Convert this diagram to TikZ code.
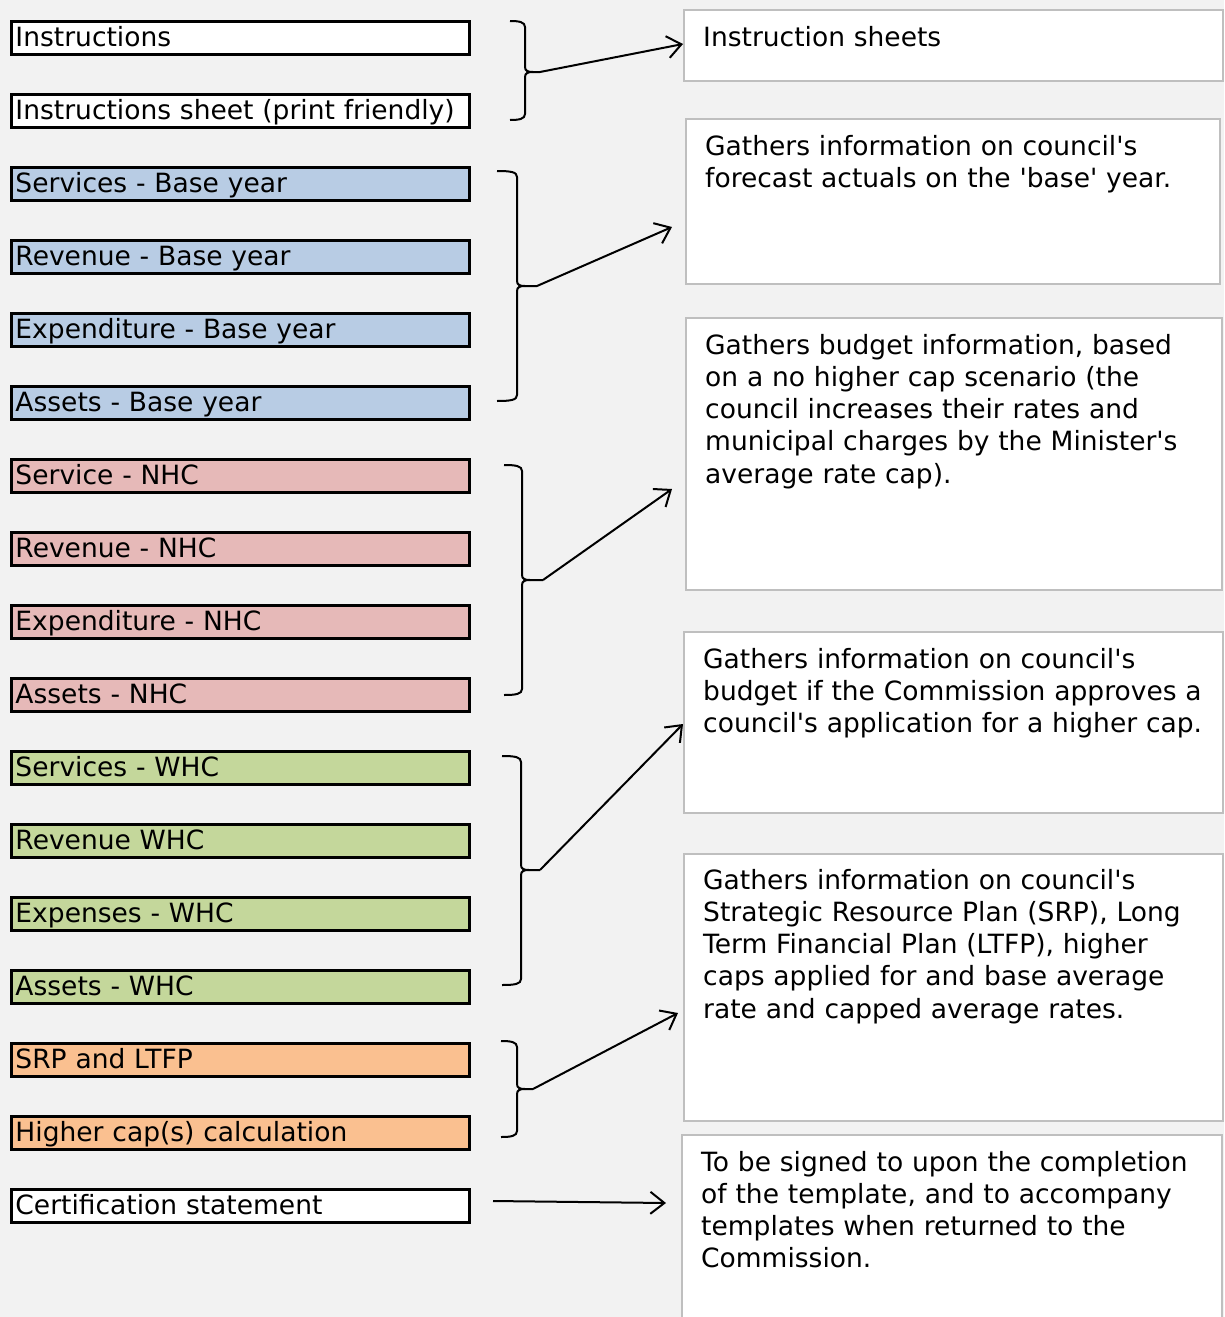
\documentclass[tikz,border=0pt]{standalone}
\usepackage{fontspec}
\setmainfont{DejaVu Sans}[Ligatures=TeXOff]
\usetikzlibrary{arrows.meta,calc}
\definecolor{bgc}{HTML}{F2F2F2}
\definecolor{bluef}{HTML}{B8CCE4}
\definecolor{pinkf}{HTML}{E6B9B8}
\definecolor{greenf}{HTML}{C4D79B}
\definecolor{orangef}{HTML}{FAC090}
\definecolor{rborder}{HTML}{BFBFBF}
\tikzset{
  lbox/.style={draw=black, line width=3pt, minimum width=458pt, minimum height=33pt,
    text width=450pt, inner xsep=4pt, inner ysep=0pt, align=left,
    text height=20pt, text depth=4pt, font=\fontsize{26.5}{32.3}\selectfont},
  rbox/.style={draw=rborder, line width=2pt, fill=white, anchor=north west, inner sep=0pt},
  rtext/.style={anchor=base west, inner sep=0pt, align=left, text width=520pt,
    font=\fontsize{26.5}{32.3}\selectfont},
  brc/.style={line width=2pt, black},
  conn/.style={line width=2pt, black, -{Straight Barb[length=14pt,width=22pt,line width=2pt]}}
}
\newcommand\drawbrace[7]{%
  \draw[brc] (#1,#3) .. controls (#2-6,#3) and (#2,#3+1) .. (#2,#3+6) -- (#2,#4-5)
     .. controls (#2,#4-1) and (#2+3,#4) .. (#2+8,#4) -- (#6,#4);
  \draw[brc] (#2+8,#4) .. controls (#2+3,#4) and (#2,#4+1) .. (#2,#4+5) -- (#2,#5-6)
     .. controls (#2,#5-1) and (#2-6,#5) .. (#1,#5);
  \coordinate (#7) at (#6,#4);
}
\begin{document}
\begin{tikzpicture}[x=1pt,y=-1pt]
\useasboundingbox (0,0) rectangle (1224,1317);
\fill[bgc] (0,0) rectangle (1224,1317);

% left boxes
\node[lbox, fill=white]   (l1)  at (240.5,38) {Instructions};
\node[lbox, fill=white]   (l2)  at (240.5,111) {Instructions sheet (print friendly)};
\node[lbox, fill=bluef]   (l3)  at (240.5,184) {Services - Base year};
\node[lbox, fill=bluef]   (l4)  at (240.5,257) {Revenue - Base year};
\node[lbox, fill=bluef]   (l5)  at (240.5,330) {Expenditure - Base year};
\node[lbox, fill=bluef]   (l6)  at (240.5,403) {Assets - Base year};
\node[lbox, fill=pinkf]   (l7)  at (240.5,476) {Service - NHC};
\node[lbox, fill=pinkf]   (l8)  at (240.5,549) {Revenue - NHC};
\node[lbox, fill=pinkf]   (l9)  at (240.5,622) {Expenditure - NHC};
\node[lbox, fill=pinkf]   (l10) at (240.5,695) {Assets - NHC};
\node[lbox, fill=greenf]  (l11) at (240.5,768) {Services - WHC};
\node[lbox, fill=greenf]  (l12) at (240.5,841) {Revenue WHC};
\node[lbox, fill=greenf]  (l13) at (240.5,914) {Expenses - WHC};
\node[lbox, fill=greenf]  (l14) at (240.5,987) {Assets - WHC};
\node[lbox, fill=orangef] (l15) at (240.5,1060) {SRP and LTFP};
\node[lbox, fill=orangef] (l16) at (240.5,1133) {Higher cap(s) calculation};
\node[lbox, fill=white]   (l17) at (240.5,1206) {Certification statement};

% right boxes
\node[rbox, minimum width=539pt, minimum height=71pt]  (r1) at (683,9) {};
\node[rbox, minimum width=534pt, minimum height=165pt] (r2) at (685,118) {};
\node[rbox, minimum width=536pt, minimum height=272pt] (r3) at (685,317) {};
\node[rbox, minimum width=539pt, minimum height=181pt] (r4) at (683,631) {};
\node[rbox, minimum width=539pt, minimum height=267pt] (r5) at (683,853) {};
\node[rbox, minimum width=540pt, minimum height=200pt] (r6) at (681,1134) {};

\node[rtext] (t1) at (703,46) {Instruction sheets};
\node[rtext] (t2) at (705,155) {Gathers information on council's\\forecast actuals on the 'base' year.};
\node[rtext] (t3) at (705,354) {Gathers budget information, based\\on a no higher cap scenario (the\\council increases their rates and\\municipal charges by the Minister's\\average rate cap).};
\node[rtext] (t4) at (703,668) {Gathers information on council's\\budget if the Commission approves a\\council's application for a higher cap.};
\node[rtext] (t5) at (703,889) {Gathers information on council's\\Strategic Resource Plan (SRP), Long\\Term Financial Plan (LTFP), higher\\caps applied for and base average\\rate and capped average rates.};
\node[rtext] (t6) at (701,1171) {To be signed to upon the completion\\of the template, and to accompany\\templates when returned to the\\Commission.};

% braces
\drawbrace{510}{525}{21}{72}{120}{540}{b1}
\drawbrace{497}{517}{171}{286}{401}{537}{b2}
\drawbrace{504}{522}{465}{580}{695}{543}{b3}
\drawbrace{502}{521}{756}{870}{985}{540}{b4}
\drawbrace{501}{517}{1041}{1089}{1137}{533}{b5}

% arrow ends
\coordinate (e1) at (683,44);
\coordinate (e2) at (672,227);
\coordinate (e3) at (672,489);
\coordinate (e4) at (683,724);
\coordinate (e5) at (678,1013);
\coordinate (e6) at (666,1203);
\coordinate (s6) at (493,1201);

\draw[conn] (b1) -- (e1);
\draw[conn] (b2) -- (e2);
\draw[conn] (b3) -- (e3);
\draw[conn] (b4) -- (e4);
\draw[conn] (b5) -- (e5);
\draw[conn] (s6) -- (e6);
\end{tikzpicture}
\end{document}
